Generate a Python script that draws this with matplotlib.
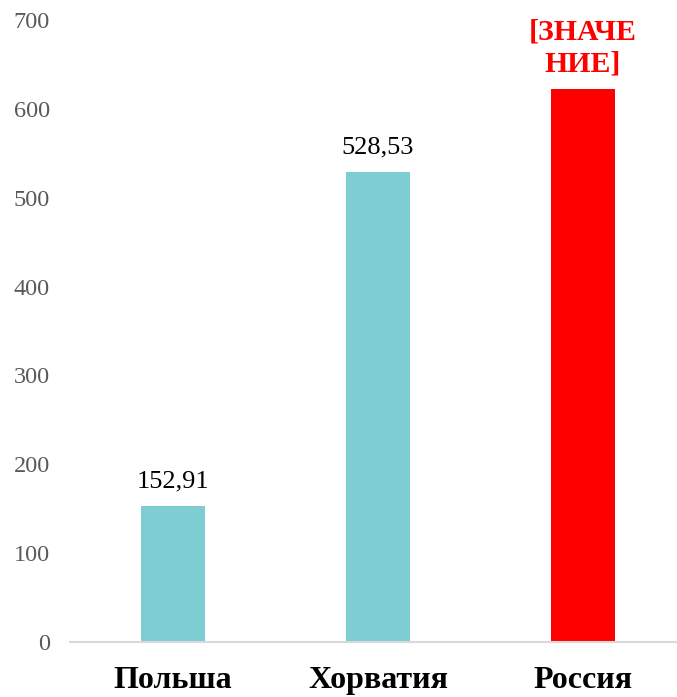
import matplotlib
matplotlib.use("Agg")
import matplotlib.pyplot as plt
from matplotlib.transforms import offset_copy

categories = ["Польша", "Хорватия", "Россия"]
values = [152.91, 528.53, 622]
labels = ["152,91", "528,53", "[ЗНАЧЕ\nНИЕ]"]
colors = ["#7ECDD3", "#7ECDD3", "#FF0000"]
yticks = [0, 100, 200, 300, 400, 500, 600, 700]

plt.rcParams['font.family'] = ['Liberation Serif', 'DejaVu Serif']

W, H = 677, 697
fig = plt.figure(figsize=(W/100, H/100), dpi=100)
ax = fig.add_axes([70.5/W, 55/H, 615/W, 622/H])

x = list(range(len(categories)))
ax.bar(x, values, width=0.31, color=colors, zorder=2)
ax.set_xlim(-0.5, 2.5)
ax.set_ylim(0, 700)
ax.set_yticks(yticks)
ax.set_yticklabels([str(t) for t in yticks], color="#595959", fontsize=17.5)
ax.set_xticks(x)
ax.set_xticklabels(categories, fontsize=23, fontweight="bold", color="black")
ax.tick_params(axis="y", length=0, pad=15)
ax.tick_params(axis="x", length=0, pad=17)
for s in ["left", "right", "top"]:
    ax.spines[s].set_visible(False)
ax.spines["bottom"].set_color("#D9D9D9")
ax.spines["bottom"].set_linewidth(1.5)

for i, (v, lab) in enumerate(zip(values, labels)):
    if i == 2:
        tr = offset_copy(ax.transData, fig=fig, x=0, y=18, units="dots")
        ax.text(i, v, lab, ha="center", va="baseline", fontsize=21.5,
                fontweight="bold", color="#FF0000", linespacing=1.25, transform=tr)
    else:
        tr = offset_copy(ax.transData, fig=fig, x=0, y=19, units="dots")
        ax.text(i, v, lab, ha="center", va="baseline", fontsize=19, color="black",
                transform=tr)

fig.savefig("out.png", dpi=100)
